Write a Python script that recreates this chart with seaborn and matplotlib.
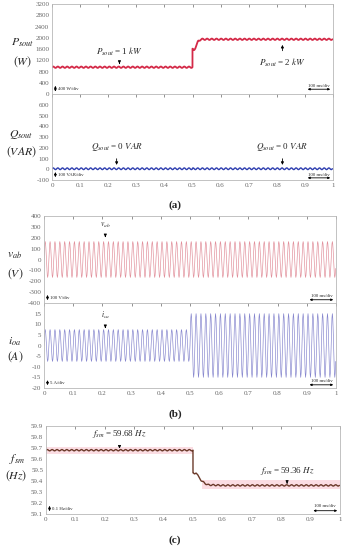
import matplotlib
matplotlib.use("Agg")
import matplotlib.pyplot as plt
import numpy as np
import seaborn as sns

# ---- data ----
n_cycles = 60                       # cycles shown over 1 s (60 Hz grid)
one_cycle = [0, 0.5, 0.866, 1, 0.866, 0.5, 0, -0.5, -0.866, -1, -0.866, -0.5]
ripple_cycle = [0, 0.7, 1, 0.7, 0, -0.7, -1, -0.7]

# output active power (W)
p_time = [0, 0.5, 0.5, 0.505, 0.51, 0.52, 0.53, 1.0]
p_value = [960, 960, 1600, 1540, 1650, 1880, 1950, 1950]
p_ripple = 25

# output reactive power (VAR)
q_time = [0, 1.0]
q_value = [5, 5]
q_ripple = 8

# line voltage peak and current peak per cycle
v_peak = [165] * 60
i_peak = [7.5] * 30 + [15] * 30

# frequency (Hz)
f_time = [0, 0.5, 0.5, 0.505, 0.51, 0.515, 0.52, 0.53, 0.54, 0.55, 0.6, 1.0]
f_value = [59.68, 59.68, 59.47, 59.46, 59.48, 59.46, 59.43, 59.40, 59.38, 59.365, 59.36, 59.36]
f_ripple = 0.006
f_band = [(0.0, 0.5, 59.65, 59.71), (0.53, 1.0, 59.33, 59.41)]

x_ticks = [0, 0.1, 0.2, 0.3, 0.4, 0.5, 0.6, 0.7, 0.8, 0.9, 1]

# ---- build traces ----
def slow_trace(times, values, ripple_amp, per_cycle=8):
    t = np.linspace(0, 1, n_cycles * per_cycle, endpoint=False)
    t = np.sort(np.append(t, 0.4999))
    base = np.interp(t, times, values)
    rip = np.resize(ripple_cycle, len(t)) * ripple_amp
    return t, base + rip

def wave(peaks):
    shape = np.tile(one_cycle, n_cycles)
    amp = np.repeat(peaks, len(one_cycle))
    t = np.arange(len(shape)) / (n_cycles * len(one_cycle))
    return t, shape * amp

tp, yp = slow_trace(p_time, p_value, p_ripple)
tq, yq = slow_trace(q_time, q_value, q_ripple)
tv, yv = wave(v_peak)
ti, yi = wave(i_peak)
tf, yf = slow_trace(f_time, f_value, f_ripple)

# ---- figure ----
sns.set_style("white")
plt.rcParams["font.family"] = ["Liberation Serif", "DejaVu Serif"]
plt.rcParams["mathtext.fontset"] = "stix"

W, H = 348, 550
fig = plt.figure(figsize=(W / 100, H / 100), dpi=100)

def box(l, r, top, bot):
    return [l / W, 1 - bot / H, (r - l) / W, (bot - top) / H]

axP = fig.add_axes(box(52, 333, 4, 94.3))
axQ = fig.add_axes(box(52, 333, 94.3, 180))
axV = fig.add_axes(box(44, 336, 216, 303))
axI = fig.add_axes(box(44, 336, 303, 388))
axF = fig.add_axes(box(46, 340, 426, 514))

sns.lineplot(x=tp, y=yp, ax=axP, color="#d42a48", lw=1.3, estimator=None, sort=False)
sns.lineplot(x=tq, y=yq, ax=axQ, color="#2f3fb0", lw=1.0, estimator=None, sort=False)
sns.lineplot(x=tv, y=yv, ax=axV, color="#e08a96", lw=0.45, estimator=None, sort=False)
sns.lineplot(x=ti, y=yi, ax=axI, color="#8282cc", lw=0.45, estimator=None, sort=False)
for x0, x1, lo, hi in f_band:
    axF.fill_between([x0, x1], lo, hi, color="#fbdde3", lw=0)
sns.lineplot(x=tf, y=yf, ax=axF, color="#6b3a2a", lw=1.0, estimator=None, sort=False)

limits = {axP: (0, 3200, 400), axQ: (-100, 700, 100), axV: (-400, 400, 100),
          axI: (-20, 20, 5), axF: (59.1, 59.9, 0.1)}
for ax, (lo, hi, step) in limits.items():
    ax.set_xlim(0, 1)
    ax.set_ylim(lo, hi)
    yt = np.round(np.arange(lo, hi + step / 2, step), 2)
    ax.set_yticks(yt)
    labels = [("%g" % v) for v in yt]
    if ax in (axQ, axI):
        labels[-1] = ""
    ax.set_yticklabels(labels)
    ax.set_xticks(x_ticks)
    ax.tick_params(direction="in", length=2, width=0.5, labelsize=5,
                   colors="#666666", top=True, pad=2)
    ax.tick_params(axis="y", left=False)
    for s in ax.spines.values():
        s.set_color("#b8b8b8")
        s.set_linewidth(0.6)
    ax.set_xlabel("")
    ax.set_ylabel("")
for ax in (axP, axV):
    ax.set_xticklabels([])
    ax.tick_params(axis="x", bottom=False)
for ax in (axQ, axI, axF):
    ax.set_xticklabels(["%g" % v for v in x_ticks])

# axis titles
def ylab(ax, top, bottom, x, yt, yb):
    ax.text(-x, yt, top, transform=ax.transAxes, ha="center", va="center", fontsize=8.5)
    ax.text(-x, yb, bottom, transform=ax.transAxes, ha="center", va="center", fontsize=8.5)

ylab(axP, r"$P_{sout}$", r"$(W)$", 0.105, 0.57, 0.36)
ylab(axQ, r"$Q_{sout}$", r"$(VAR)$", 0.11, 0.53, 0.33)
ylab(axV, r"$v_{ab}$", r"$(V)$", 0.1, 0.55, 0.34)
ylab(axI, r"$i_{oa}$", r"$(A)$", 0.1, 0.55, 0.37)
ylab(axF, r"$f_{sm}$", r"$(Hz)$", 0.1, 0.62, 0.44)

arrow = dict(arrowstyle="-|>", lw=0.6, color="black", mutation_scale=4)
fs = 6.5
axP.annotate(r"$P_{sout}$ = 1 $kW$", xy=(0.24, 1080), xytext=(0.24, 1520),
             ha="center", va="center", fontsize=fs, arrowprops=arrow)
axP.annotate(r"$P_{sout}$ = 2 $kW$", xy=(0.82, 1850), xytext=(0.82, 1330),
             ha="center", va="top", fontsize=fs, arrowprops=arrow)
for xq in (0.23, 0.82):
    axQ.annotate(r"$Q_{sout}$ = 0 $VAR$", xy=(xq, 15), xytext=(xq, 155),
                 ha="center", va="bottom", fontsize=fs, arrowprops=arrow)
axV.annotate(r"$v_{ab}$", xy=(0.21, 180), xytext=(0.21, 270),
             ha="center", va="bottom", fontsize=5.5, arrowprops=arrow)
axI.annotate(r"$i_{oa}$", xy=(0.21, 8.2), xytext=(0.21, 11.5),
             ha="center", va="bottom", fontsize=5.5, arrowprops=arrow)
axF.annotate(r"$f_{sm}$ = 59.68 $Hz$", xy=(0.25, 59.695), xytext=(0.25, 59.77),
             ha="center", va="bottom", fontsize=fs, arrowprops=arrow)
axF.annotate(r"$f_{sm}$ = 59.36 $Hz$", xy=(0.82, 59.375), xytext=(0.82, 59.44),
             ha="center", va="bottom", fontsize=fs, arrowprops=arrow)

# scale bars
bar = dict(arrowstyle="<|-|>", lw=0.6, color="black", mutation_scale=3)
def scale(ax, lo, div, ytxt, label, yh):
    ax.annotate("", xy=(0.012, lo), xytext=(0.012, lo + div), arrowprops=bar)
    ax.text(0.022, lo + div / 2, label, fontsize=3.5, va="center")
    ax.annotate("", xy=(0.9, yh), xytext=(1.0, yh), arrowprops=bar)
    ax.text(0.95, ytxt, "100 ms/div", fontsize=3.5, ha="center", va="center")

scale(axP, 0, 400, 290, "400 W/div", 180)
scale(axQ, -100, 100, -50, "100 VAR/div", -80)
scale(axV, -400, 100, -335, "100 V/div", -370)
scale(axI, -20, 5, -16.5, "5 A/div", -18.5)
scale(axF, 59.1, 0.1, 59.17, "0.1 Hz/div", 59.13)

for label, ypx in (("(a)", 205), ("(b)", 414), ("(c)", 540)):
    fig.text(175 / W, 1 - ypx / H, label, ha="center", va="center",
             fontsize=8, fontweight="bold")

fig.savefig("out.png", dpi=100)
